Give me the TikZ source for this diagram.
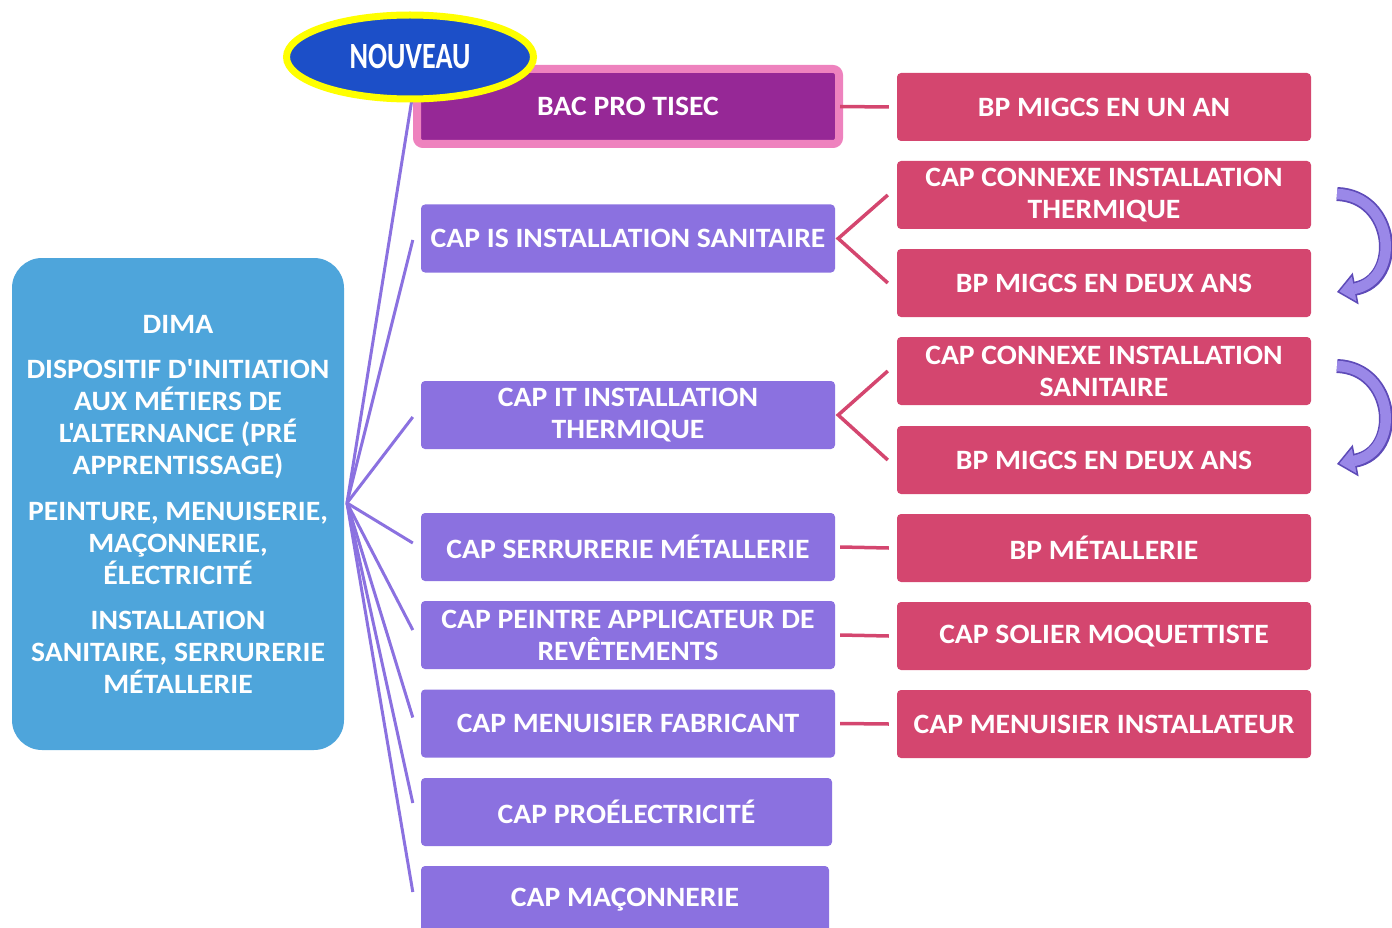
\documentclass[tikz,border=0pt]{standalone}
\usepackage{fontspec}
\setmainfont{Carlito}[Ligatures=TeXOff, FakeStretch=1.06]
\newfontfamily\condfont{Carlito}[Ligatures=TeXOff, FakeStretch=0.76]
\usetikzlibrary{shapes.geometric,arrows.meta,calc}
\definecolor{dimablue}{HTML}{4EA5DB}
\definecolor{purp}{HTML}{8B71E0}
\definecolor{redb}{HTML}{D4466F}
\definecolor{bacfill}{HTML}{962896}
\definecolor{bacedge}{HTML}{EE82BE}
\definecolor{newfill}{HTML}{1C4FC8}
\definecolor{newedge}{HTML}{FFFF00}
\definecolor{arrlight}{HTML}{9A88E8}
\definecolor{arrdark}{HTML}{5E4BB8}
\newcommand{\boxfont}{\bfseries\fontsize{28}{32}\selectfont}
\tikzset{
  basebox/.style={rounded corners=4pt, minimum height=68pt, text=white,
    font=\boxfont, align=center, inner sep=0pt},
  pbox/.style={basebox, fill=purp, minimum width=414pt},
  rbox/.style={basebox, fill=redb, minimum width=414pt},
  fanline/.style={draw=purp, line width=3pt},
  redline/.style={draw=redb, line width=3.5pt},
  bigarrowdark/.style={draw=arrdark, line width=14pt,
    -{Stealth[inset=0pt, width=32pt, length=19pt, line width=1.5pt, fill=arrlight, color=arrdark]}},
  bigarrowlight/.style={draw=arrlight, line width=10.5pt, shorten >=17pt},
}
\begin{document}
\begin{tikzpicture}[x=1pt,y=-1pt]
\useasboundingbox (0,0) rectangle (1392,928);
\clip (0,0) rectangle (1392,928);

% left DIMA box
\node[fill=dimablue, rounded corners=30pt, minimum width=332pt, minimum height=492pt,
  text=white, font=\boxfont, align=center, inner sep=0pt] (dima) at (178,504)
  {DIMA\\[13pt]DISPOSITIF D'INITIATION\\AUX MÉTIERS DE\\L'ALTERNANCE (PRÉ\\APPRENTISSAGE)\\[14pt]PEINTURE, MENUISERIE,\\MAÇONNERIE,\\ÉLECTRICITÉ\\[13pt]INSTALLATION\\SANITAIRE, SERRURERIE\\MÉTALLERIE};
\coordinate (fan) at (347,503);

% middle column
\node[basebox, fill=bacfill, draw=bacedge, line width=8pt, rounded corners=6pt,
  minimum width=422pt, minimum height=75pt] (bac) at (628,106.5) {BAC PRO TISEC};
\node[pbox] (is) at (628,238.5) {CAP IS INSTALLATION SANITAIRE};
\node[pbox] (it) at (628,415) {CAP IT INSTALLATION\\THERMIQUE};
\node[pbox] (serr) at (628,547) {CAP SERRURERIE MÉTALLERIE};
\node[pbox] (peint) at (628,635) {CAP PEINTRE APPLICATEUR DE\\REVÊTEMENTS};
\node[pbox] (menf) at (628,723.5) {CAP MENUISIER FABRICANT};
\node[pbox, minimum width=411pt] (elec) at (626.5,812) {CAP PROÉLECTRICITÉ};
\node[pbox, minimum width=408pt] (macon) at (625,900) {CAP MAÇONNERIE};

% right column
\node[rbox] (r1) at (1104,107) {BP MIGCS EN UN AN};
\node[rbox] (r2) at (1104,195) {CAP CONNEXE INSTALLATION\\THERMIQUE};
\node[rbox] (r3) at (1104,283) {BP MIGCS EN DEUX ANS};
\node[rbox] (r4) at (1104,371) {CAP CONNEXE INSTALLATION\\SANITAIRE};
\node[rbox] (r5) at (1104,460) {BP MIGCS EN DEUX ANS};
\node[rbox] (r6) at (1104,548) {BP MÉTALLERIE};
\node[rbox] (r7) at (1104,636) {CAP SOLIER MOQUETTISTE};
\node[rbox] (r8) at (1104,724) {CAP MENUISIER INSTALLATEUR};

% fan connectors
\draw[fanline] (fan) -- ([xshift=1pt,yshift=20pt]bac.west);
\draw[fanline] (fan) -- ([xshift=-8pt,yshift=-1.5pt]is.west);
\draw[fanline] (fan) -- ([xshift=-8pt,yshift=-2pt]it.west);
\draw[fanline] (fan) -- ([xshift=-8pt,yshift=4pt]serr.west);
\draw[fanline] (fan) -- ([xshift=-8pt,yshift=5pt]peint.west);
\draw[fanline] (fan) -- ([xshift=-8pt,yshift=6pt]menf.west);
\draw[fanline] (fan) -- ([xshift=-8pt,yshift=9pt]elec.west);
\draw[fanline] (fan) -- ([xshift=-8pt,yshift=8pt]macon.west);

% red connectors
\draw[redline] ([xshift=-3pt]bac.east) -- ([xshift=-8pt]r1.west);
\draw[redline] ([xshift=-9pt]r2.west) -- ([xshift=3pt]is.east) -- ([xshift=-9pt]r3.west);
\draw[redline] ([xshift=-9pt]r4.west) -- ([xshift=3pt]it.east) -- ([xshift=-9pt]r5.west);
\draw[redline] ([xshift=5pt]serr.east) -- ([xshift=-8pt]r6.west);
\draw[redline] ([xshift=5pt]peint.east) -- ([xshift=-8pt]r7.west);
\draw[redline] ([xshift=5pt]menf.east) -- ([xshift=-8pt]r8.west);

% NOUVEAU ellipse
\node[ellipse, fill=newfill, draw=newedge, line width=7pt, minimum width=247pt,
  minimum height=84pt, inner sep=0pt, text=white] (nouveau) at (410,57)
  {\condfont\bfseries\fontsize{37}{40}\selectfont NOUVEAU};

% curved arrows
\foreach \dy/\nm in {0/a, 172/b} {
  \begin{scope}[shift={(0,\dy)}]
    \coordinate (\nm s) at (1337,194);
    \coordinate (\nm e) at (1337,292);
    \draw[bigarrowdark] (\nm s) .. controls (1395,196) and (1402,280) .. (\nm e);
    \draw[bigarrowlight] (\nm s) .. controls (1395,196) and (1402,280) .. (\nm e);
  \end{scope}
}
\end{tikzpicture}
\end{document}
